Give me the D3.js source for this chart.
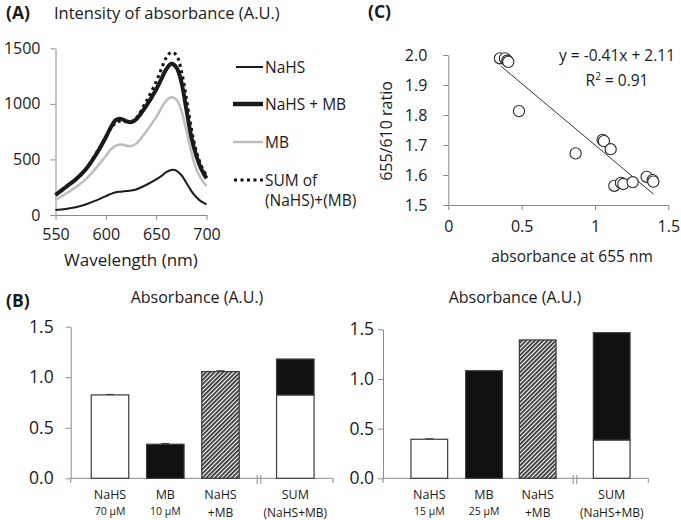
<!DOCTYPE html>
<html><head><meta charset="utf-8">
<script src="https://cdn.jsdelivr.net/npm/d3@7/dist/d3.min.js"></script>
<style>
html,body{margin:0;padding:0;background:#fff;}
svg text{font-family:"Open Sans",sans-serif;fill:#1a1a1a;}
</style></head>
<body><svg id="c" width="681" height="520"></svg>
<script>
// ---------- Panel A data ----------
const wavelengths = [550,560,570,580,590,600,605,610,615,620,625,630,640,650,655,660,665,670,675,680,685,690,695,700];
const nahsSpec   = [45,55,70,95,130,170,190,205,210,215,220,230,270,320,350,385,405,400,360,290,215,160,120,95];
const nahsMbSpec = [180,250,320,410,540,700,790,855,865,845,835,860,980,1130,1220,1310,1360,1330,1200,950,700,530,410,330];
const mbSpec     = [135,190,250,320,420,530,590,625,635,625,620,640,750,880,960,1030,1060,1040,940,760,560,410,320,260];
const sumSpec    = [180,245,320,415,550,700,780,830,845,840,840,870,1020,1200,1310,1415,1465,1440,1300,1050,775,570,440,355];
const specTicksY = [0,500,1000,1500];
const specTicksX = [550,600,650,700];
const legendLabels = ["NaHS","NaHS + MB","MB","SUM of","(NaHS)+(MB)"];

// ---------- Panel C data ----------
const absorb655 = [0.352,0.386,0.402,0.409,0.482,0.868,1.052,1.061,1.107,1.132,1.177,1.193,1.257,1.352,1.393,1.398];
const ratio     = [1.989,1.989,1.981,1.977,1.813,1.672,1.717,1.713,1.686,1.564,1.574,1.570,1.576,1.594,1.583,1.578];
const fitSlope = -0.41, fitIntercept = 2.11, fitR2 = 0.91;
const fitRange = [0.36,1.40];
const ratioTicks = [1.5,1.6,1.7,1.8,1.9,2.0];
const absTicks = [0,0.5,1,1.5];

// ---------- Panel B data ----------
const barCats = ["NaHS","MB","NaHS+MB","SUM"];
const barLine1 = ["NaHS","MB","NaHS","SUM"];
const leftLine2 = ["70 \u00b5M","10 \u00b5M","+MB","(NaHS+MB)"];
const rightLine2 = ["15 \u00b5M","25 \u00b5M","+MB","(NaHS+MB)"];
const leftVals = [0.825,0.337,1.056];
const leftErr  = [0.005,0.008,0.008];
const leftSum  = [0.825,0.355];   // NaHS part, MB part
const rightVals = [0.393,1.083,1.393];
const rightErr  = [0.005,0,0];
const rightSum  = [0.386,1.080];
const barTicks = [0,0.5,1.0,1.5];

const svg = d3.select("#c");
const axisCol = "#8a8a8a";
const defs = svg.append("defs");
const pat = defs.append("pattern").attr("id","hatch").attr("patternUnits","userSpaceOnUse")
  .attr("width",3).attr("height",3).attr("patternTransform","rotate(45)");
pat.append("rect").attr("width",3).attr("height",3).attr("fill","#fff");
pat.append("line").attr("x1",0.9).attr("y1",0).attr("x2",0.9).attr("y2",3).attr("stroke","#333").attr("stroke-width",1.8);

function styleAxis(g){
  g.selectAll(".domain").attr("stroke",axisCol);
  g.selectAll(".tick line").attr("stroke",axisCol);
  g.selectAll(".tick text").attr("fill","#1a1a1a").attr("font-family","Open Sans, sans-serif");
}

// ================= Panel A =================
const xA = d3.scaleLinear().domain([550,700]).range([55.5,206.5]);
const yA = d3.scaleLinear().domain([0,1500]).range([215,48.3]);
const gA = svg.append("g");
gA.append("g").attr("transform","translate(0,215)")
  .call(d3.axisBottom(xA).tickValues(specTicksX).tickSize(5).tickSizeOuter(0).tickPadding(9))
  .call(styleAxis).call(g=>g.selectAll("text").attr("font-size",16));
gA.append("g").attr("transform","translate(55.5,0)")
  .call(d3.axisLeft(yA).tickValues(specTicksY).tickSize(5).tickSizeOuter(0).tickFormat(d3.format("d")).tickPadding(10))
  .call(styleAxis).call(g=>g.selectAll("text").attr("font-size",16));

const lineA = ys => d3.line().x((d,i)=>xA(wavelengths[i])).y(d=>yA(d)).curve(d3.curveCatmullRom)(ys);
gA.append("path").attr("d",lineA(mbSpec)).attr("fill","none").attr("stroke","#bdbdbd").attr("stroke-width",2.5);
gA.append("path").attr("d",lineA(nahsSpec)).attr("fill","none").attr("stroke","#1a1a1a").attr("stroke-width",2);
gA.append("path").attr("d",lineA(sumSpec)).attr("fill","none").attr("stroke","#111").attr("stroke-width",3).attr("stroke-dasharray","3,3.5");
gA.append("path").attr("d",lineA(nahsMbSpec)).attr("fill","none").attr("stroke","#1a1a1a").attr("stroke-width",4);

// legend
const legY = [67,104,142,180];
const legStyles = [
  {c:"#1a1a1a",w:2,da:null,x0:236},
  {c:"#1a1a1a",w:4.5,da:null,x0:233},
  {c:"#bdbdbd",w:2.5,da:null,x0:233},
  {c:"#111",w:3,da:"3,3.5",x0:234}
];
legStyles.forEach((s,i)=>{
  gA.append("line").attr("x1",s.x0).attr("x2",263).attr("y1",legY[i]).attr("y2",legY[i])
    .attr("stroke",s.c).attr("stroke-width",s.w).attr("stroke-dasharray",s.da);
  gA.append("text").attr("x",265).attr("y",legY[i]+5.5).attr("font-size",15.5).text(legendLabels[i]);
});
gA.append("text").attr("x",265).attr("y",205.5).attr("font-size",15.5).text(legendLabels[4]);

gA.append("text").attr("x",6).attr("y",19).attr("font-size",17.5).attr("font-weight","bold").text("(A)");
gA.append("text").attr("x",54).attr("y",19).attr("font-size",16.5).text("Intensity of absorbance (A.U.)");
gA.append("text").attr("x",131).attr("y",266).attr("font-size",17).attr("text-anchor","middle").text("Wavelength (nm)");

// ================= Panel C =================
const xC = d3.scaleLinear().domain([0,1.5]).range([448.3,668.3]);
const yC = d3.scaleLinear().domain([1.5,2.0]).range([205,55]);
const gC = svg.append("g");
gC.append("g").attr("transform","translate(0,205)")
  .call(d3.axisBottom(xC).tickValues(absTicks).tickSize(5).tickSizeOuter(0).tickPadding(11).tickFormat(d=>d===0||d===1?d3.format("d")(d):d3.format(".1f")(d)))
  .call(styleAxis).call(g=>g.selectAll("text").attr("font-size",16));
gC.append("g").attr("transform","translate(448.3,0)")
  .call(d3.axisLeft(yC).tickValues(ratioTicks).tickSize(5).tickSizeOuter(0).tickPadding(16).tickFormat(d3.format(".1f")))
  .call(styleAxis).call(g=>g.selectAll("text").attr("font-size",16));

gC.append("line").attr("x1",xC(fitRange[0])).attr("y1",yC(fitSlope*fitRange[0]+fitIntercept))
  .attr("x2",xC(fitRange[1])).attr("y2",yC(fitSlope*fitRange[1]+fitIntercept))
  .attr("stroke","#333").attr("stroke-width",1);
gC.selectAll("circle.pt").data(absorb655).enter().append("circle")
  .attr("cx",d=>xC(d)).attr("cy",(d,i)=>yC(ratio[i])).attr("r",5.6)
  .attr("fill","#fff").attr("stroke","#2a2a2a").attr("stroke-width",1.1);

gC.append("text").attr("x",368).attr("y",18).attr("font-size",17.5).attr("font-weight","bold").text("(C)");
gC.append("text").attr("x",617).attr("y",61).attr("font-size",15.5).attr("text-anchor","middle")
  .text(`y = ${fitSlope.toFixed(2)}x + ${fitIntercept.toFixed(2)}`);
const r2 = gC.append("text").attr("x",617).attr("y",86).attr("font-size",15.5).attr("text-anchor","middle");
r2.append("tspan").text("R");
r2.append("tspan").attr("font-size",10).attr("dy",-6).text("2");
r2.append("tspan").attr("dy",6).text(` = ${fitR2.toFixed(2)}`);
gC.append("text").attr("transform","translate(392,131) rotate(-90)").attr("font-size",16)
  .attr("text-anchor","middle").text("655/610 ratio");
gC.append("text").attr("x",572).attr("y",262).attr("font-size",15.5).attr("text-anchor","middle").text("absorbance at 655 nm");

// ================= Panel B =================
function barPanel(cfg){
  const g = svg.append("g");
  const y = d3.scaleLinear().domain([0,1.5]).range([478.3,cfg.yTop]);
  const x = d3.scaleOrdinal().domain(barCats).range(cfg.centers);
  const bw = cfg.bw;
  g.append("g").attr("transform",`translate(${cfg.axX},0)`)
    .call(d3.axisLeft(y).tickValues(barTicks).tickSize(5).tickSizeOuter(0).tickPadding(cfg.pad).tickFormat(d3.format(".1f")))
    .call(styleAxis).call(gg=>gg.selectAll("text").attr("font-size",17.5));
  // x axis line
  g.append("line").attr("x1",cfg.axX).attr("x2",cfg.axEnd).attr("y1",478.3).attr("y2",478.3).attr("stroke",axisCol);
  g.append("line").attr("x1",cfg.axEnd).attr("x2",cfg.axEnd).attr("y1",478.3).attr("y2",483).attr("stroke",axisCol);
  g.append("line").attr("x1",cfg.axX).attr("x2",cfg.axX).attr("y1",478.3).attr("y2",483).attr("stroke",axisCol);
  [-1.8,1.8].forEach(o=>g.append("line").attr("x1",cfg.brk+o).attr("x2",cfg.brk+o).attr("y1",475).attr("y2",484).attr("stroke",axisCol));
  const fills = ["#fff","#111","url(#hatch)"];
  cfg.vals.forEach((v,i)=>{
    const cx = x(barCats[i]);
    if(cfg.err[i]>0){
      g.append("line").attr("x1",cx).attr("x2",cx).attr("y1",y(v)).attr("y2",y(v+cfg.err[i])).attr("stroke","#333");
      g.append("line").attr("x1",cx-4).attr("x2",cx+4).attr("y1",y(v+cfg.err[i])).attr("y2",y(v+cfg.err[i])).attr("stroke","#333");
    }
    g.append("rect").attr("x",cx-bw/2).attr("width",bw).attr("y",y(v)).attr("height",y(0)-y(v))
      .attr("fill",fills[i]).attr("stroke","#3a3a3a").attr("stroke-width",1.2);
  });
  const sx = x("SUM");
  g.append("rect").attr("x",sx-bw/2).attr("width",bw).attr("y",y(cfg.sum[0])).attr("height",y(0)-y(cfg.sum[0]))
    .attr("fill","#fff").attr("stroke","#3a3a3a").attr("stroke-width",1.2);
  g.append("rect").attr("x",sx-bw/2).attr("width",bw).attr("y",y(cfg.sum[0]+cfg.sum[1])).attr("height",y(0)-y(cfg.sum[1]))
    .attr("fill","#111").attr("stroke","#3a3a3a").attr("stroke-width",1.2);
  barCats.forEach((c,i)=>{
    g.append("text").attr("x",x(c)).attr("y",499).attr("font-size",12.5).attr("text-anchor","middle").text(barLine1[i]);
    const small = cfg.line2[i].includes("\u00b5");
    g.append("text").attr("x",x(c)).attr("y",small?515:516.5).attr("font-size",small?10.5:12).attr("text-anchor","middle").text(cfg.line2[i]);
  });
  g.append("text").attr("x",cfg.titleX).attr("y",303).attr("font-size",16).attr("text-anchor","middle").text("Absorbance (A.U.)");
}
barPanel({yTop:326.7, axX:70.7, axEnd:333, brk:259, centers:[110,165.3,220.5,295.3], bw:37.5, pad:12,
  vals:leftVals, err:leftErr, sum:leftSum, line2:leftLine2, titleX:197});
barPanel({yTop:329.3, axX:383, axEnd:648.3, brk:575, centers:[429.3,484,537.7,611.7], bw:36.7, pad:4,
  vals:rightVals, err:rightErr, sum:rightSum, line2:rightLine2, titleX:515});
svg.append("text").attr("x",6).attr("y",307).attr("font-size",17.5).attr("font-weight","bold").text("(B)");
</script></body></html>
